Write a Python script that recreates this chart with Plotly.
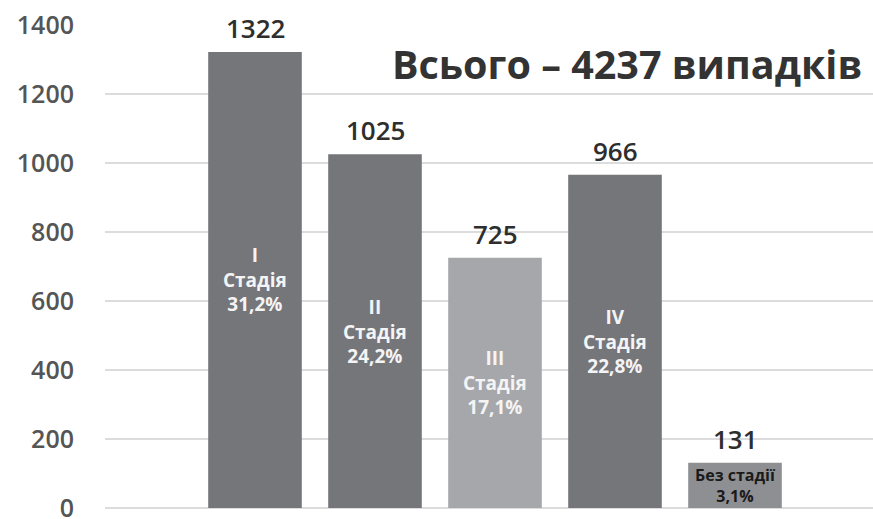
import plotly.graph_objects as go

categories = ["I", "II", "III", "IV", "Без стадії"]
values = [1322, 1025, 725, 966, 131]
inside_labels = ["I<br>Стадія<br>31,2%", "II<br>Стадія<br>24,2%", "III<br>Стадія<br>17,1%",
                 "IV<br>Стадія<br>22,8%", "Без стадії<br>3,1%"]
bar_colors = ["#75767a", "#75767a", "#a6a7aa", "#75767a", "#8e8f92"]
inside_colors = ["#f4f4f4", "#f4f4f4", "#f4f4f4", "#f4f4f4", "#1a1a1a"]
inside_sizes = [19, 19, 19, 19, 16]
tick_vals = [0, 200, 400, 600, 800, 1000, 1200, 1400]
title_text = "Всього – 4237 випадків"

FONT = "Open Sans"

fig = go.Figure()
fig.add_trace(go.Bar(
    x=categories, y=values, width=0.78,
    marker=dict(color=bar_colors, line=dict(width=0)),
    hoverinfo="skip",
))

annotations = []
for c, v in zip(categories, values):
    annotations.append(dict(
        x=c, y=v, xref="x", yref="y", text=str(v), showarrow=False,
        yanchor="bottom", yshift=4,
        font=dict(family=FONT, size=26, color="#2e2e2e", weight=600),
    ))
for c, v, t, col, sz in zip(categories, values, inside_labels, inside_colors, inside_sizes):
    annotations.append(dict(
        x=c, y=v / 2, xref="x", yref="y", text=t, showarrow=False,
        yanchor="middle",
        font=dict(family=FONT, size=sz, color=col, weight=700),
    ))
plot_h = 519 - 25 - 11
annotations.append(dict(
    x=0.988, y=1 + (25 - 64) / plot_h, xref="paper", yref="paper", text=title_text,
    showarrow=False, xanchor="right", yanchor="middle",
    font=dict(family=FONT, size=39.5, color="#333333", weight=700),
))

fig.update_layout(
    width=873, height=519,
    margin=dict(l=105, r=0, t=25, b=11, autoexpand=False),
    paper_bgcolor="white", plot_bgcolor="white",
    showlegend=False,
    annotations=annotations,
    xaxis=dict(type="category", range=[-1.25, 5.15], showticklabels=False,
               showgrid=False, zeroline=False, showline=False, ticks="",
               automargin=False),
    yaxis=dict(range=[0, 1400], tickvals=tick_vals, showgrid=True,
               gridcolor="#dcdcdc", gridwidth=1.5, zeroline=True,
               zerolinecolor="#dcdcdc", zerolinewidth=1.5, showline=False,
               ticks="", ticklabelstandoff=30, ticklabeloverflow="allow",
               automargin=False,
               tickfont=dict(family=FONT, size=25, color="#555555", weight=600)),
)

fig.write_html("out.html")
